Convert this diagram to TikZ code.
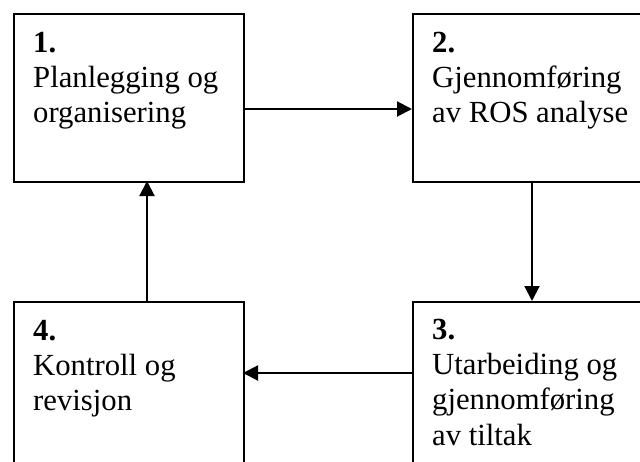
\documentclass[tikz,border=0pt]{standalone}
\usepackage{fontspec}
\setmainfont{Liberation Serif}
\usetikzlibrary{arrows.meta}
\tikzset{
  box/.style={draw=black, line width=2pt, anchor=north west, inner sep=0pt, minimum width=#1, minimum height=168pt},
  lbl/.style={anchor=north west, inner sep=0pt, align=left, font=\fontsize{30.7pt}{35.3pt}\selectfont},
  arr/.style={line width=2pt, -{Triangle[length=15pt,width=15pt]}}
}
\newcommand{\firststrut}{\rule{0pt}{25pt}}
\begin{document}
\begin{tikzpicture}[x=1pt,y=-1pt]
\clip (0,0) rectangle (640,461);
\fill[white] (0,0) rectangle (640,461);
\node[box=230pt] (b1) at (13,13) {};
\node[box=240pt] (b2) at (412,13) {};
\node[box=240pt] (b3) at (412,301) {};
\node[box=230pt] (b4) at (13,301) {};
\node[lbl] (t1) at (33,27) {\firststrut\textbf{1.}\\Planlegging og\\organisering};
\node[lbl] (t2) at (432,27) {\firststrut\textbf{2.}\\Gjennomføring\\av ROS analyse};
\node[lbl] (t3) at (432,314) {\firststrut\textbf{3.}\\Utarbeiding og\\gjennomføring\\av tiltak};
\node[lbl] (t4) at (33,315) {\firststrut\textbf{4.}\\Kontroll og\\revisjon};
\coordinate (a1s) at (243,109);
\coordinate (a1e) at (412,109);
\coordinate (a2s) at (532,181);
\coordinate (a2e) at (532,301);
\coordinate (a3s) at (412,373);
\coordinate (a3e) at (243,373);
\coordinate (a4s) at (147,301);
\coordinate (a4e) at (147,181);
\draw[arr] (a1s) -- (a1e);
\draw[arr] (a2s) -- (a2e);
\draw[arr] (a3s) -- (a3e);
\draw[arr] (a4s) -- (a4e);
\end{tikzpicture}
\end{document}
